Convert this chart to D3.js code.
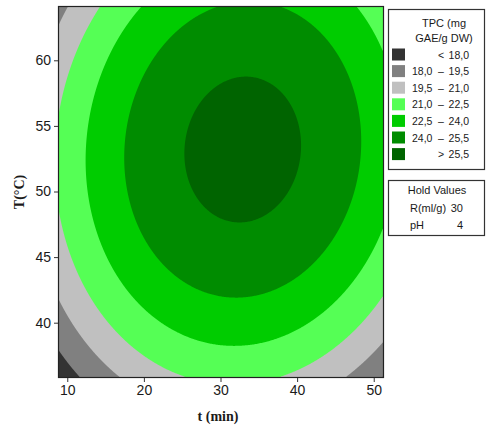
<!DOCTYPE html>
<html lang="en">
<meta charset="UTF-8">
<style>
    body { margin: 0; background: white; }
    text { font-family: "Liberation Sans", Arial, sans-serif; fill: #1a1a1a; }
    .axtitle { font-family: "Liberation Serif", serif; font-weight: bold; font-size: 14px; }
</style>
<body>
<svg width="487" height="428" id="chart"></svg>
<script src="https://d3js.org/d3.v7.min.js"></script>
<script>
const tDomain = [8.79, 51.21];
const TDomain = [35.86, 64.14];
const xTicks = [10, 20, 30, 40, 50];
const yTicks = [40, 45, 50, 55, 60];
const levels = [18, 19.5, 21, 22.5, 24, 25.5];
const bandColors = ["#333333", "#808080", "#c0c0c0", "#55ff55", "#00cc00", "#008c00", "#006400"];
const bandLow = ["", "18,0", "19,5", "21,0", "22,5", "24,0", ""];
const bandSign = ["<", "\u2013", "\u2013", "\u2013", "\u2013", "\u2013", ">"];
const bandHigh = ["18,0", "19,5", "21,0", "22,5", "24,0", "25,5", "25,5"];
const holdNames = ["R(ml/g)", "pH"];
const holdValues = [30, 4];
// fitted surface: peak, t at peak, T at peak, t curvature, T curvature, t*T term
const surface = [25.98, 32.9, 53.2, 0.0083, 0.01558, -0.00125];

const svg = d3.select('#chart');
const x0 = 58, x1 = 383, y0 = 6, y1 = 377;

const xScale = d3.scaleLinear().domain(tDomain).range([x0, x1]);
const yScale = d3.scaleLinear().domain(TDomain).range([y1, y0]);

const tpc = (t, T) => {
    const u = t - surface[1], v = T - surface[2];
    return surface[0] - surface[3]*u*u - surface[4]*v*v - surface[5]*u*v;
};

const nx = x1 - x0, ny = y1 - y0;
const grid = new Array(nx*ny);
for (let j = 0; j < ny; j++) {
    for (let i = 0; i < nx; i++) {
        grid[j*nx + i] = tpc(xScale.invert(x0 + i + 0.5), yScale.invert(y0 + j + 0.5));
    }
}
const contours = d3.contours().size([nx, ny]).thresholds(levels)(grid);

svg.append('clipPath').attr('id', 'clip')
    .append('rect').attr('x', x0).attr('y', y0).attr('width', nx).attr('height', ny);

const plot = svg.append('g').attr('clip-path', 'url(#clip)');
plot.append('rect')
    .attr('x', x0).attr('y', y0).attr('width', nx).attr('height', ny)
    .attr('fill', bandColors[0]);
plot.append('g')
    .attr('transform', `translate(${x0},${y0})`)
    .selectAll('path').data(contours)
    .enter().append('path')
        .attr('d', d3.geoPath())
        .attr('fill', (d, i) => bandColors[i + 1]);

svg.append('rect')
    .attr('x', x0 + 0.5).attr('y', y0 + 0.5).attr('width', nx).attr('height', ny)
    .attr('fill', 'none').attr('stroke', '#222').attr('stroke-width', 1.2);

const xAxis = svg.append('g')
    .attr('transform', `translate(0,${y1 + 1})`)
    .call(d3.axisBottom(xScale).tickValues(xTicks).tickSize(4).tickPadding(3));
const yAxis = svg.append('g')
    .attr('transform', `translate(${x0},0)`)
    .call(d3.axisLeft(yScale).tickValues(yTicks).tickSize(4).tickPadding(3));
[xAxis, yAxis].forEach(a => {
    a.select('.domain').remove();
    a.selectAll('line').attr('stroke', '#333');
    a.selectAll('text').attr('font-size', '14px').attr('font-family', null).attr('fill', '#1a1a1a');
});

svg.append('text').attr('class', 'axtitle')
    .attr('x', 218).attr('y', 421).attr('text-anchor', 'middle')
    .text('t (min)');
svg.append('text').attr('class', 'axtitle')
    .attr('transform', 'translate(24,192) rotate(-90)')
    .attr('text-anchor', 'middle')
    .text('T(\u00B0C)');

// legend
const leg = svg.append('g');
leg.append('rect')
    .attr('x', 388.5).attr('y', 9.5).attr('width', 96).attr('height', 160)
    .attr('fill', 'white').attr('stroke', '#333').attr('stroke-width', 1.2);
leg.append('text').attr('x', 444).attr('y', 27).attr('text-anchor', 'middle')
    .attr('font-size', '11px').text('TPC (mg');
leg.append('text').attr('x', 444).attr('y', 42).attr('text-anchor', 'middle')
    .attr('font-size', '11px').text('GAE/g DW)');

const rows = leg.selectAll('g.row').data(bandColors)
    .enter().append('g')
        .attr('class', 'row')
        .attr('transform', (d, i) => `translate(0,${54.5 + i*16.6})`);
rows.append('rect')
    .attr('x', 392).attr('y', -6).attr('width', 13).attr('height', 12)
    .attr('fill', d => d);
rows.append('text')
    .attr('x', 412).attr('y', 4).attr('font-size', '10.5px')
    .text((d, i) => bandLow[i]);
rows.append('text')
    .attr('x', 441).attr('y', 4).attr('font-size', '10.5px').attr('text-anchor', 'middle')
    .text((d, i) => bandSign[i]);
rows.append('text')
    .attr('x', 469).attr('y', 4).attr('font-size', '10.5px').attr('text-anchor', 'end')
    .text((d, i) => bandHigh[i]);

// hold values box
const hold = svg.append('g');
hold.append('rect')
    .attr('x', 388.5).attr('y', 180.5).attr('width', 96).attr('height', 55)
    .attr('fill', 'white').attr('stroke', '#333').attr('stroke-width', 1.2);
hold.append('text').attr('x', 437).attr('y', 194).attr('text-anchor', 'middle')
    .attr('font-size', '11px').text('Hold Values');
holdNames.forEach((n, i) => {
    hold.append('text').attr('x', 410).attr('y', 212 + i*17)
        .attr('font-size', '11px').text(n);
    hold.append('text').attr('x', 463).attr('y', 212 + i*17)
        .attr('font-size', '11px').attr('text-anchor', 'end').text(holdValues[i]);
});
</script>
</body>
</html>
